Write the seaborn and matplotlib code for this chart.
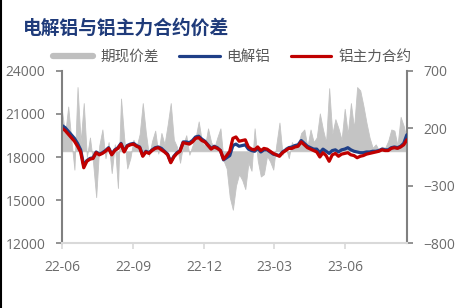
import numpy as np
import pandas as pd
import matplotlib
matplotlib.use("Agg")
import matplotlib.pyplot as plt
import matplotlib.dates as mdates
from matplotlib.lines import Line2D
import seaborn as sns

# ---------------- data ----------------
dates = pd.date_range("2022-06-01", periods=112, freq="4D")

futures = [20000, 19850, 19600, 19350, 19100, 18750, 18350, 17250, 17700, 17850,
           17900, 18300, 18150, 18250, 18400, 18600, 18150, 18450, 18600, 18900,
           18350, 18750, 18850, 18900, 18750, 18650, 18050, 18350, 18250, 18450,
           18600, 18650, 18500, 18350, 18150, 17600, 18000, 18250, 18400, 19000,
           18950, 18900, 19050, 19300, 19350, 19150, 19050, 18800, 18550, 18700,
           18600, 18450, 17850, 18100, 18400, 19300, 19400, 19100, 19150, 19200,
           18700, 18550, 18500, 18700, 18450, 18600, 18550, 18400, 18250, 18150,
           18050, 18300, 18450, 18600, 18600, 18700, 18750, 19050, 18850, 18650,
           18550, 18450, 18350, 18000, 18300, 18100, 17700, 18150, 18250, 18050,
           18200, 18250, 18300, 18150, 18100, 17950, 18050, 18100, 18200, 18250,
           18300, 18350, 18400, 18500, 18450, 18450, 18600, 18650, 18600, 18700,
           18850, 19200]

spot = [20200, 20050, 19800, 19550, 19300, 18950, 18500, 17400, 17750, 17900,
        17950, 18350, 18200, 18300, 18450, 18650, 18200, 18500, 18650, 18950,
        18400, 18800, 18900, 18950, 18800, 18700, 18100, 18400, 18300, 18500,
        18650, 18700, 18600, 18400, 18200, 17650, 18050, 18300, 18450, 19050,
        19050, 19000, 19150, 19400, 19450, 19250, 19100, 18850, 18600, 18750,
        18650, 18450, 17800, 17950, 18100, 18800, 18900, 18750, 18800, 18850,
        18550, 18450, 18400, 18600, 18350, 18500, 18500, 18350, 18200, 18150,
        18100, 18350, 18500, 18650, 18700, 18800, 18850, 19150, 18950, 18750,
        18650, 18550, 18550, 18300, 18550, 18400, 18250, 18450, 18500, 18350,
        18500, 18550, 18650, 18500, 18400, 18350, 18300, 18300, 18350, 18350,
        18400, 18400, 18450, 18550, 18500, 18500, 18650, 18700, 18650, 18750,
        18950, 19550]

spread = [350, 150, 390, 100, -160, 560, 80, 420, -50, 120,
          -100, -400, 50, 190, -60, 80, -190, 60, -320, 460,
          120, -150, -60, 100, 40, 150, 420, 160, -40, 90,
          180, -20, 160, 60, 230, 420, 100, 40, -100, 60,
          140, -30, 50, 120, 260, 90, 40, 200, 80, 30,
          120, 200, -80, -150, -400, -510, -300, -200, -250, -330,
          -100, -170, 200, -80, -220, -200, -40, -90, -160, 60,
          250, -30, 40, -60, 80, 20, 60, 160, 190, 40,
          190, 80, 120, 330, 190, 80, 550, 150, 280, 200,
          100, 370, 150, 420, 200, 560, 530, 400, 250, 120,
          30, 60, 10, 40, 30, 90, 190, 180, 50, 300,
          220, 100]

x_ticks = ["2022-06-01", "2022-09-01", "2022-12-01", "2023-03-01", "2023-06-01"]
left_ticks = [12000, 15000, 18000, 21000, 24000]
right_ticks = [-800, -300, 200, 700]

df = pd.DataFrame({"date": dates, "futures": futures, "spot": spot, "spread": spread})

# ---------------- style ----------------
sns.set_theme(style="white")
plt.rcParams["font.family"] = ["Noto Sans CJK SC", "DejaVu Sans"]

fig = plt.figure(figsize=(4.61, 3.08), dpi=100)
ax1 = fig.add_axes([0.1345, 0.211, 0.748, 0.5585])
ax2 = ax1.twinx()

# spread area on right axis (behind)
ax2.fill_between(df["date"], 0, df["spread"], color="#c4c4c4", lw=0.6,
                 edgecolor="#c4c4c4")
ax2.set_ylim(-800, 700)
ax2.set_yticks(right_ticks)

# price lines on left axis (front)
ax1.set_zorder(ax2.get_zorder() + 1)
ax1.patch.set_visible(False)
sns.lineplot(data=df, x="date", y="spot", ax=ax1, color="#1f3f87", lw=2.3)
sns.lineplot(data=df, x="date", y="futures", ax=ax1, color="#c00000", lw=2.3)
ax1.set_ylim(12000, 24000)
ax1.set_yticks(left_ticks)
ax1.set_xlim(pd.Timestamp("2022-06-01"), pd.Timestamp("2023-08-19"))
ax1.set_xticks(pd.to_datetime(x_ticks))
ax1.xaxis.set_major_formatter(mdates.DateFormatter("%y-%m"))
ax1.set_xlabel("")
ax1.set_ylabel("")

tick_color = "#6b6b6b"
for ax in (ax1, ax2):
    for s in ax.spines.values():
        s.set_visible(False)
    ax.grid(False)
ax1.spines["left"].set_visible(True)
ax1.spines["left"].set_color("#808080")
ax1.spines["left"].set_linewidth(1.5)
ax1.spines["bottom"].set_visible(True)
ax1.spines["bottom"].set_color("#d9d9d9")
ax1.spines["bottom"].set_linewidth(1.5)
ax2.spines["right"].set_visible(True)
ax2.spines["right"].set_color("#808080")
ax2.spines["right"].set_linewidth(1.5)

ax1.tick_params(axis="y", left=True, length=4, width=1.2, color="#808080",
                labelcolor=tick_color, labelsize=10, pad=8,
                labelfontfamily="Open Sans")
ax1.tick_params(axis="x", bottom=True, length=4, width=1.2, color="#d9d9d9",
                labelcolor=tick_color, labelsize=10, pad=8,
                labelfontfamily="Open Sans")
ax2.tick_params(axis="y", right=True, length=4, width=1.2, color="#808080",
                labelcolor=tick_color, labelsize=10, pad=8,
                labelfontfamily="Open Sans")

# title
fig.text(0.05, 0.909, "电解铝与铝主力合约价差", fontsize=13.5, fontweight="bold",
         color="#1f3b7a", ha="left", va="center")

# legend
handles = [Line2D([0], [0], color="#bfbfbf", lw=4.5),
           Line2D([0], [0], color="#1f3f87", lw=2.3),
           Line2D([0], [0], color="#c00000", lw=2.3)]
labels = ["期现价差", "电解铝", "铝主力合约"]
leg = fig.legend(handles, labels, loc="center", bbox_to_anchor=(0.503, 0.815),
                 ncol=3, frameon=False, fontsize=10.5, handlelength=2.8,
                 handletextpad=0.45, columnspacing=1.4)
for t in leg.get_texts():
    t.set_color("#595959")

# left border line
fig.add_artist(Line2D([0.002, 0.002], [0, 1], color="black", lw=1.5,
                      transform=fig.transFigure))

fig.savefig("out.png", dpi=100)
